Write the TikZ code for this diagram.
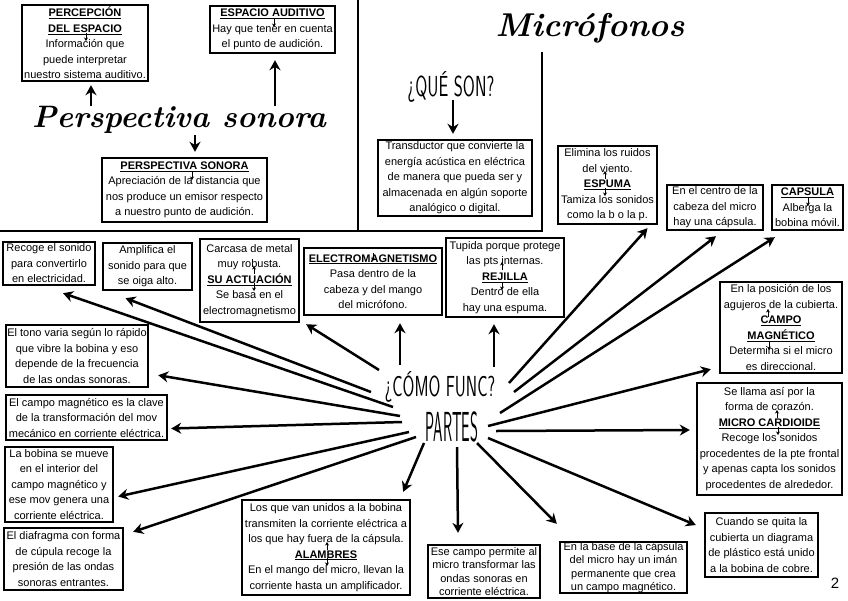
\documentclass[tikz,border=0pt]{standalone}
\usepackage{fontspec}
\setmainfont{Liberation Sans}
\newfontfamily\brushfont{Latin Modern Roman}
\newfontfamily\capsfont{Latin Modern Sans}
\usetikzlibrary{arrows.meta,calc}

\newcommand{\boxtitle}[1]{\underline{\textbf{#1}}}

\begin{document}
\begin{tikzpicture}[%
    x=1pt, y=-1pt,
    box/.style={%
        draw,
        line width=2.4pt,
        align=center,
        inner sep=0pt,
        font=\fontsize{11}{15.5}\selectfont
    },
    tightbox/.style={%
        box,
        font=\fontsize{11}{13.4}\selectfont
    },
    brush/.style={%
        inner sep=0pt,
        font=\brushfont\bfseries\itshape\fontsize{31}{31}\selectfont
    },
    thincaps/.style={%
        inner sep=0pt,
        font=\capsfont\fontsize{29}{29}\selectfont
    },
    arrow/.style={->, line width=2.5pt},
    tinyarrow/.style={-{Stealth[length=3.5pt,width=4pt]}, line width=1pt},
    divider/.style={line width=2.6pt},
    >={Stealth[length=10pt,width=11pt]}
]
\useasboundingbox (0,0) rectangle (848,600);

% Dividers
\draw[divider] (358,0) -- (358,231);
\draw[divider] (0,231) -- (542,231);
\draw[divider] (542,52) -- (542,232);

% Perspectiva sonora
    \node[box, minimum width=126, minimum height=76] (percepcion) at (85,43)
        {\boxtitle{PERCEPCIÓN}\\ \boxtitle{DEL ESPACIO}\\ Información que\\ puede interpretar\\ nuestro sistema auditivo.};
    \node[box, minimum width=125, minimum height=47] (espacio) at (272.5,29.5)
        {\boxtitle{ESPACIO AUDITIVO}\\ Hay que tener en cuenta\\ el punto de audición.};
    \node[brush] (persp) at (179,120) {Perspectiva sonora};
    \node[box, minimum width=165, minimum height=64] (perspbox) at (184.5,190)
        {\boxtitle{PERSPECTIVA SONORA}\\ Apreciación de la distancia que\\ nos produce un emisor respecto\\ a nuestro punto de audición.};

% Que son
    \node[brush, font=\brushfont\bfseries\itshape\fontsize{33}{33}\selectfont] (microfonos) at (590,28) {Micrófonos};
    \node[thincaps] (queson) at (451,87) {\scalebox{0.6}[1]{¿QUÉ SON?}};
    \node[box, minimum width=154, minimum height=76] (transductor) at (455,178)
        {Transductor que convierte la\\ energía acústica en eléctrica\\ de manera que pueda ser y\\ almacenada en algún soporte\\ analógico o digital.};

% Como funciona / partes
    \node[thincaps] (como) at (440,387) {\scalebox{0.59}[1]{¿CÓMO FUNC?}};
    \node[thincaps, font=\capsfont\fontsize{42}{42}\selectfont] (partes) at (452,427) {\scalebox{0.36}[1]{PARTES}};

% Boxes, top row
    \node[box, minimum width=92, minimum height=43] (recoge) at (49,263.5)
        {Recoge el sonido\\ para convertirlo\\ en electricidad.};
    \node[box, minimum width=89, minimum height=47] (amplifica) at (147.5,266.5)
        {Amplifica el\\ sonido para que\\ se oiga alto.};
    \node[box, minimum width=99, minimum height=83] (carcasa) at (249.5,280.5)
        {Carcasa de metal\\ muy robusta.\\ \boxtitle{SU ACTUACIÓN}\\ Se basa en el\\ electromagnetismo};
    \node[box, minimum width=138, minimum height=67] (electro) at (373,281.5)
        {\boxtitle{ELECTROMAGNETISMO}\\ Pasa dentro de la\\ cabeza y del mango\\ del micrófono.};
    \node[box, minimum width=118, minimum height=79] (rejilla) at (505,277.5)
        {Tupida porque protege\\ las pts internas.\\ \boxtitle{REJILLA}\\ Dentro de ella\\ hay una espuma.};
    \node[box, minimum width=99, minimum height=78] (espuma) at (607.5,185)
        {Elimina los ruidos\\ del viento.\\ \boxtitle{ESPUMA}\\ Tamiza los sonidos\\ como la b o la p.};
    \node[box, minimum width=96, minimum height=45] (centro) at (715,207.5)
        {En el centro de la\\ cabeza del micro\\ hay una cápsula.};
    \node[box, minimum width=71, minimum height=45] (capsula) at (807.5,207.5)
        {\boxtitle{CAPSULA}\\ Alberga la\\ bobina móvil.};

% Boxes, left column
    \node[box, minimum width=142, minimum height=62] (tono) at (77,356)
        {El tono varia según lo rápido\\ que vibre la bobina y eso\\ depende de la frecuencia\\ de las ondas sonoras.};
    \node[box, minimum width=161, minimum height=45] (clave) at (86.5,417.5)
        {El campo magnético es la clave\\ de la transformación del mov\\ mecánico en corriente eléctrica.};
    \node[box, minimum width=108, minimum height=75] (bobina) at (59,484.5)
        {La bobina se mueve\\ en el interior del\\ campo magnético y\\ ese mov genera una\\ corriente eléctrica.};
    \node[box, minimum width=119, minimum height=62] (diafragma) at (63.5,559)
        {El diafragma con forma\\ de cúpula recoge la\\ presión de las ondas\\ sonoras entrantes.};

% Boxes, bottom row
    \node[box, minimum width=168, minimum height=95] (alambres) at (326,547.5)
        {Los que van unidos a la bobina\\ transmiten la corriente eléctrica a\\ los que hay fuera de la cápsula.\\ \boxtitle{ALAMBRES}\\ En el mango del micro, llevan la\\ corriente hasta un amplificador.};
    \node[tightbox, minimum width=112, minimum height=53] (permite) at (484,571.5)
        {Ese campo permite al\\ micro transformar las\\ ondas sonoras en\\ corriente eléctrica.};
    \node[tightbox, minimum width=127, minimum height=51] (base) at (623.5,567.5)
        {En la base de la cápsula\\ del micro hay un imán\\ permanente que crea\\ un campo magnético.};
    \node[box, minimum width=113, minimum height=64] (cuando) at (761.5,545)
        {Cuando se quita la\\ cubierta un diagrama\\ de plástico está unido\\ a la bobina de cobre.};

% Boxes, right column
    \node[box, minimum width=122, minimum height=91] (campo) at (781,327.5)
        {En la posición de los\\ agujeros de la cubierta.\\ \boxtitle{CAMPO}\\ \boxtitle{MAGNÉTICO}\\ Determina si el micro\\ es direccional.};
    \node[box, minimum width=145, minimum height=112] (cardioide) at (769.5,439)
        {Se llama así por la\\ forma de corazón.\\ \boxtitle{MICRO CARDIOIDE}\\ Recoge los sonidos\\ procedentes de la pte frontal\\ y apenas capta los sonidos\\ procedentes de alrededor.};

    \node[font=\fontsize{15}{15}\selectfont] (pagenum) at (835,583) {2};

% Arrow tails
\coordinate (tPercepcion) at (91,106);
\coordinate (tEspacio) at (275,106);
\coordinate (tPerspbox) at (195,135);
\coordinate (tQueson) at (453,100);
\coordinate (tRecoge) at (393,407);
\coordinate (tAmplifica) at (371,392);
\coordinate (tCarcasa) at (379,370);
\coordinate (tElectro) at (400,365);
\coordinate (tRejilla) at (494,367);
\coordinate (tEspuma) at (509,383);
\coordinate (tCentro) at (514,392);
\coordinate (tCapsula) at (500,413);
\coordinate (tCampo) at (488,426);
\coordinate (tCardioide) at (496,431);
\coordinate (tCuando) at (488,438);
\coordinate (tBase) at (477,443);
\coordinate (tPermite) at (457,447);
\coordinate (tAlambres) at (424,443);
\coordinate (tDiafragma) at (416,437);
\coordinate (tBobina) at (409,432);
\coordinate (tClave) at (402,422);
\coordinate (tTono) at (400,416);

% Arrows
\draw[arrow] (tPercepcion) -- ($(percepcion.south)+(6,3)$);
\draw[arrow] (tEspacio) -- ($(espacio.south)+(2.5,6)$);
\draw[arrow] (tPerspbox) -- ($(perspbox.north)+(10.5,-5)$);
\draw[arrow] (tQueson) -- ($(transductor.north)+(-2,-5)$);

\draw[arrow] (tRecoge) -- ($(recoge.south)+(14,7)$);
\draw[arrow] (tAmplifica) -- ($(amplifica.south)+(-22,7)$);
\draw[arrow] (tCarcasa) -- ($(carcasa.south east)+(6,1)$);
\draw[arrow] (tElectro) -- ($(electro.south)+(27,7)$);
\draw[arrow] (tRejilla) -- ($(rejilla.south)+(-11,6)$);
\draw[arrow] (tEspuma) -- ($(espuma.south)+(40,3)$);
\draw[arrow] (tCentro) -- ($(centro.south)+(1,5)$);
\draw[arrow] (tCapsula) -- ($(capsula.south west)+(4,6)$);
\draw[arrow] (tCampo) -- ($(campo.south west)+(-8,-5)$);
\draw[arrow] (tCardioide) -- ($(cardioide.west)+(-6,-9)$);
\draw[arrow] (tCuando) -- ($(cuando.west)+(-8,-20)$);
\draw[arrow] (tBase) -- ($(base.north west)+(-2,-17)$);
\draw[arrow] (tPermite) -- ($(permite.north)+(-26,-11)$);
\draw[arrow] (tAlambres) -- ($(alambres.north east)+(-8,-7)$);
\draw[arrow] (tDiafragma) -- ($(diafragma.north east)+(9,5)$);
\draw[arrow] (tBobina) -- ($(bobina.east)+(4,12)$);
\draw[arrow] (tClave) -- ($(clave.east)+(3,11)$);
\draw[arrow] (tTono) -- ($(tono.south east)+(9,-13)$);

% Small arrows inside the boxes
\draw[tinyarrow] ($(percepcion)+(1,-10)$) -- ++(0,8);
\draw[tinyarrow] ($(espacio)+(1.5,-10.5)$) -- ++(0,8);
\draw[tinyarrow] ($(perspbox)+(7.5,-18)$) -- ++(0,8);
\draw[tinyarrow] ($(espuma)+(-2.5,-6)$) -- ++(0,-8);
\draw[tinyarrow] ($(espuma)+(-2.5,3)$) -- ++(0,8);
\draw[tinyarrow] ($(capsula)+(0.5,-9.5)$) -- ++(0,8);
\draw[tinyarrow] ($(carcasa)+(4.5,-6.5)$) -- ++(0,-8);
\draw[tinyarrow] ($(carcasa)+(4.5,2.5)$) -- ++(0,8);
\draw[tinyarrow] ($(electro)+(0,-28.5)$) -- ++(0,8);
\draw[tinyarrow] ($(rejilla)+(-3,-7.5)$) -- ++(0,-8);
\draw[tinyarrow] ($(rejilla)+(-3,4.5)$) -- ++(0,8);
\draw[tinyarrow] ($(alambres)+(1,2.5)$) -- ++(0,-8);
\draw[tinyarrow] ($(alambres)+(1,10.5)$) -- ++(0,8);
\draw[tinyarrow] ($(campo)+(-13,-10.5)$) -- ++(0,-8);
\draw[tinyarrow] ($(campo)+(-12,14.5)$) -- ++(0,8);
\draw[tinyarrow] ($(cardioide)+(7.5,-21)$) -- ++(0,-8);
\draw[tinyarrow] ($(cardioide)+(8.5,-12)$) -- ++(0,8);

\end{tikzpicture}
\end{document}
